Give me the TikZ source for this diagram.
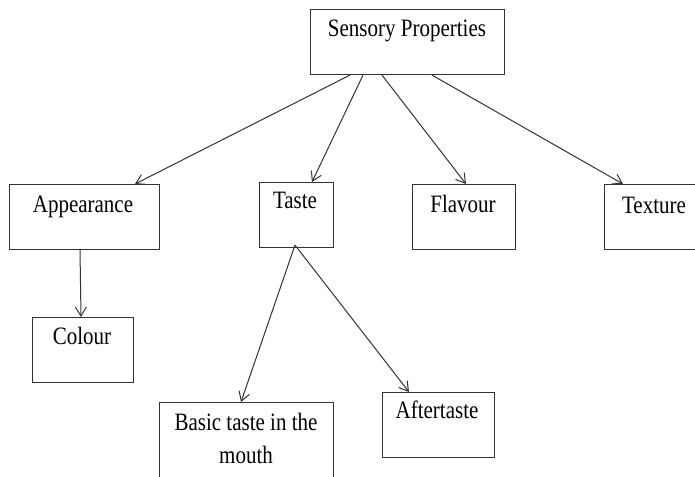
\documentclass[tikz,border=0pt]{standalone}
\usepackage{fontspec}
\setmainfont{Liberation Serif}[FakeStretch=0.84]
\usetikzlibrary{arrows.meta}
\definecolor{linec}{HTML}{333333}
\tikzset{
  box/.style={draw=linec, line width=1.1pt, rectangle, inner sep=0pt, anchor=north west},
  lbl/.style={inner sep=0pt, anchor=base, font=\fontsize{25}{33}\selectfont, text=black},
  arr/.style={draw=linec, line width=1pt, -{Straight Barb[length=9pt,width=11pt,line width=1pt]}}
}
\begin{document}
\begin{tikzpicture}[x=1pt,y=-1pt]
\useasboundingbox (0,0) rectangle (695,476);
\fill[white] (0,0) rectangle (695,476);
\clip (0,0) rectangle (695,476);
% boxes
\node[box, minimum width=194pt, minimum height=65pt] (sens) at (310,9) {};
\node[box, minimum width=150pt, minimum height=65pt] (app) at (9,184) {};
\node[box, minimum width=74pt, minimum height=65pt] (taste) at (259,182) {};
\node[box, minimum width=103pt, minimum height=65pt] (flav) at (412,184) {};
\node[box, minimum width=110pt, minimum height=65pt] (text) at (604,184) {};
\node[box, minimum width=101pt, minimum height=65pt] (col) at (32,317) {};
\node[box, minimum width=174pt, minimum height=90pt] (basic) at (159,402) {};
\node[box, minimum width=112pt, minimum height=65pt] (after) at (382,392) {};
% labels
\node[lbl] (lsens) at (407,37) {Sensory Properties};
\node[lbl] (lapp) at (83,212) {Appearance};
\node[lbl] (ltaste) at (295,208) {Taste};
\node[lbl] (lflav) at (463,212) {Flavour};
\node[lbl] (ltext) at (654,213) {Texture};
\node[lbl] (lcol) at (82,344) {Colour};
\node[lbl] (lbasic1) at (246,430) {Basic taste in the};
\node[lbl] (lbasic2) at (246,463) {mouth};
\node[lbl] (lafter) at (437,418) {Aftertaste};
% connectors
\draw[arr] ([xshift=40pt]sens.south west) -- ([xshift=126pt]app.north west);
\draw[arr] ([xshift=53pt]sens.south west) -- ([xshift=53pt]taste.north west);
\draw[arr] ([xshift=72pt]sens.south west) -- ([xshift=54pt]flav.north west);
\draw[arr] ([xshift=122pt]sens.south west) -- ([xshift=19pt]text.north west);
\draw[arr] ([xshift=71pt]app.south west) -- ([xshift=49pt]col.north west);
\draw[arr] ([xshift=36pt,yshift=3pt]taste.south west) -- ([xshift=82pt]basic.north west);
\draw[arr] ([xshift=36pt,yshift=3pt]taste.south west) -- ([xshift=27pt]after.north west);
\end{tikzpicture}
\end{document}
